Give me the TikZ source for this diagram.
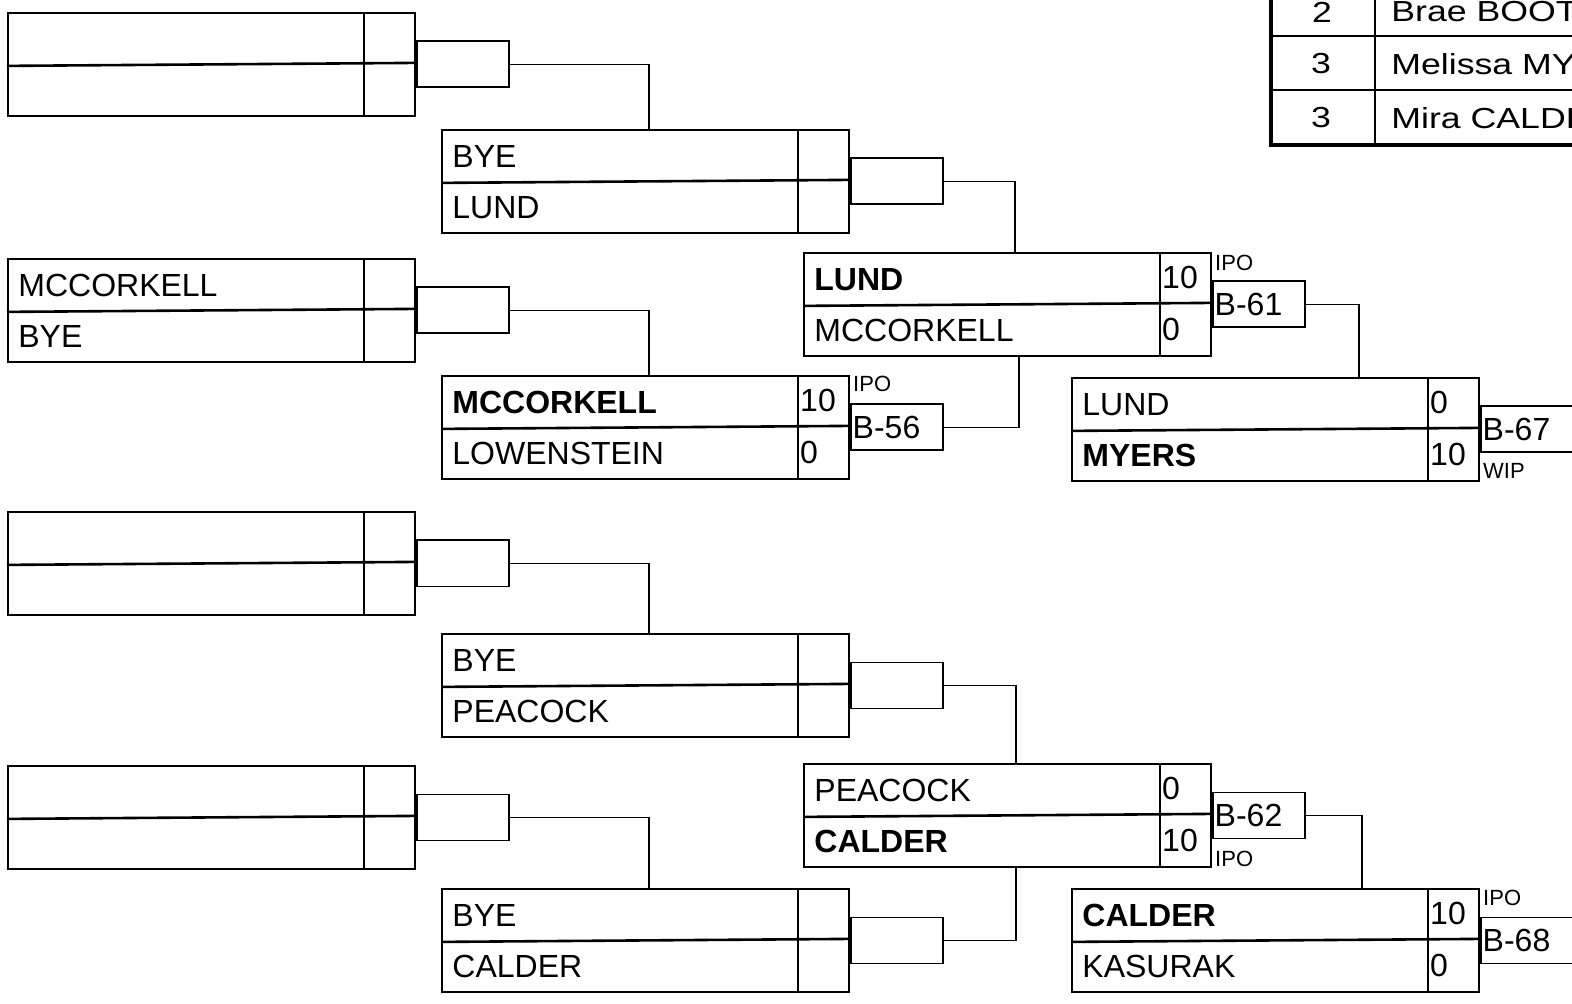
\documentclass[tikz,border=0pt]{standalone}
\usepackage{fontspec}
\setmainfont{Liberation Sans}
\usetikzlibrary{calc}
\tikzset{
  mbox/.style={draw, line width=0.9pt, minimum width=203.5pt, minimum height=51.5pt, inner sep=0pt},
  midline/.style={line width=1.3pt},
  scoreline/.style={line width=0.9pt},
  nametext/.style={inner sep=0pt, font=\fontsize{16}{18}\selectfont},
  wintext/.style={inner sep=0pt, font=\fontsize{16}{18}\selectfont\bfseries},
  scoretext/.style={inner sep=0pt, font=\fontsize{16}{18}\selectfont},
  linkbox/.style={draw, line width=0.9pt, minimum height=23pt, text width=44pt, inner xsep=1pt, inner ysep=0pt, align=left, font=\fontsize{16}{18}\selectfont},
  widelink/.style={linkbox, text width=80pt},
  smalltext/.style={inner sep=0pt, font=\fontsize{11}{12}\selectfont},
  conn/.style={line width=0.75pt},
  tabouter/.style={line width=1.8pt},
  tabline/.style={line width=1.1pt},
  tabtext/.style={inner sep=0pt, font=\fontsize{14.5}{16}\selectfont},
}
\newcommand{\wide}[1]{\scalebox{1.23}[1]{#1}}
% #1 id, #2 x, #3 y, #4 top style, #5 top name, #6 bottom style, #7 bottom name, #8 top score, #9 bottom score
\newcommand{\matchbox}[9]{%
  \node[mbox, anchor=north west] (#1) at (#2,#3) {};
  \draw[midline] ($(#1.west)+(0,1.5)$) -- ($(#1.east)+(0,-1.5)$);
  \draw[scoreline] ($(#1.north east)+(-52,0)$) -- ($(#1.south east)+(-52,0)$);
  \node[#4, anchor=west] (#1-tn) at ($(#1.west)+(11,-25)$) {#5};
  \node[#6, anchor=west] (#1-bn) at ($(#1.west)+(11,26)$) {#7};
  \node[scoretext, anchor=west] (#1-ts) at ($(#1.east)+(-50,-27)$) {#8};
  \node[scoretext, anchor=west] (#1-bs) at ($(#1.east)+(-50,25)$) {#9};
}
\begin{document}
\begin{tikzpicture}[x=0.5pt, y=-0.5pt]
\useasboundingbox (0,0) rectangle (1572,1004);
\clip (0,0) rectangle (1572,1004);
\fill[white] (0,0) rectangle (1572,1004);

% table (top right)
\draw[tabline] (1271,36) -- (1600,36);
\draw[tabline] (1271,90) -- (1600,90);
\draw[tabline] (1375,-20) -- (1375,145);
\draw[tabouter] (1271,-20) rectangle (1600,145);
\node[tabtext] (t1r) at (1322,12) {\wide{2}};
\node[tabtext, anchor=west] (t1n) at (1391,12) {\wide{Brae BOOT}};
\node[tabtext] (t2r) at (1321,64) {\wide{3}};
\node[tabtext, anchor=west] (t2n) at (1391,64) {\wide{Melissa MYERS}};
\node[tabtext] (t3r) at (1321,118) {\wide{3}};
\node[tabtext, anchor=west] (t3n) at (1391,118) {\wide{Mira CALDER}};

% round 1
\matchbox{r1a}{7}{12}{nametext}{}{nametext}{}{}{}
\matchbox{r1b}{7}{258}{nametext}{MCCORKELL}{nametext}{BYE}{}{}
\matchbox{r1c}{7}{511}{nametext}{}{nametext}{}{}{}
\matchbox{r1d}{7}{765}{nametext}{}{nametext}{}{}{}
% round 2
\matchbox{r2a}{441}{129}{nametext}{BYE}{nametext}{LUND}{}{}
\matchbox{r2b}{441}{375}{wintext}{MCCORKELL}{nametext}{LOWENSTEIN}{10}{0}
\matchbox{r2c}{441}{633}{nametext}{BYE}{nametext}{PEACOCK}{}{}
\matchbox{r2d}{441}{888}{nametext}{BYE}{nametext}{CALDER}{}{}
% round 3
\matchbox{r3a}{803}{252}{wintext}{LUND}{nametext}{MCCORKELL}{10}{0}
\matchbox{r3b}{803}{763}{nametext}{PEACOCK}{wintext}{CALDER}{0}{10}
% round 4
\matchbox{r4a}{1071}{377}{nametext}{LUND}{wintext}{MYERS}{0}{10}
\matchbox{r4b}{1071}{888}{wintext}{CALDER}{nametext}{KASURAK}{10}{0}

% link boxes
\node[linkbox, anchor=west] (r1a-b) at (r1a.east) {};
\node[linkbox, anchor=west] (r1b-b) at (r1b.east) {};
\node[linkbox, anchor=west] (r1c-b) at (r1c.east) {};
\node[linkbox, anchor=west] (r1d-b) at (r1d.east) {};
\node[linkbox, anchor=west] (r2a-b) at (r2a.east) {};
\node[linkbox, anchor=west] (r2b-b) at (r2b.east) {B-56};
\node[linkbox, anchor=west] (r2c-b) at (r2c.east) {};
\node[linkbox, anchor=west] (r2d-b) at (r2d.east) {};
\node[linkbox, anchor=west] (r3a-b) at (r3a.east) {B-61};
\node[linkbox, anchor=west] (r3b-b) at (r3b.east) {B-62};
\node[widelink, anchor=west] (r4a-b) at (r4a.east) {B-67};
\node[widelink, anchor=west] (r4b-b) at (r4b.east) {B-68};

% status labels
\node[smalltext, anchor=south west] (r2b-l) at ($(r2b-b.north west)+(3,-11)$) {IPO};
\node[smalltext, anchor=south west] (r3a-l) at ($(r3a-b.north west)+(3,-9)$) {IPO};
\node[smalltext, anchor=north west] (r3b-l) at ($(r3b-b.south west)+(3,11)$) {IPO};
\node[smalltext, anchor=north west] (r4a-l) at ($(r4a-b.south west)+(3,10)$) {WIP};
\node[smalltext, anchor=south west] (r4b-l) at ($(r4b-b.north west)+(3,-10)$) {IPO};

% connector junction columns
\coordinate (j1) at (649,0);
\coordinate (j2a) at (1015,0);
\coordinate (j2b) at (1019,0);
\coordinate (j2c) at (1016,0);
\coordinate (j3a) at (1359,0);
\coordinate (j3b) at (1362,0);

\draw[conn] (r1a-b.east) -| (j1 |- r2a.north);
\draw[conn] (r1b-b.east) -| (j1 |- r2b.north);
\draw[conn] (r1c-b.east) -| (j1 |- r2c.north);
\draw[conn] (r1d-b.east) -| (j1 |- r2d.north);
\draw[conn] (r2a-b.east) -| (j2a |- r3a.north);
\draw[conn] (r2b-b.east) -| (j2b |- r3a.south);
\draw[conn] (r2c-b.east) -| (j2c |- r3b.north);
\draw[conn] (r2d-b.east) -| (j2c |- r3b.south);
\draw[conn] (r3a-b.east) -| (j3a |- r4a.north);
\draw[conn] (r3b-b.east) -| (j3b |- r4b.north);
\end{tikzpicture}
\end{document}
